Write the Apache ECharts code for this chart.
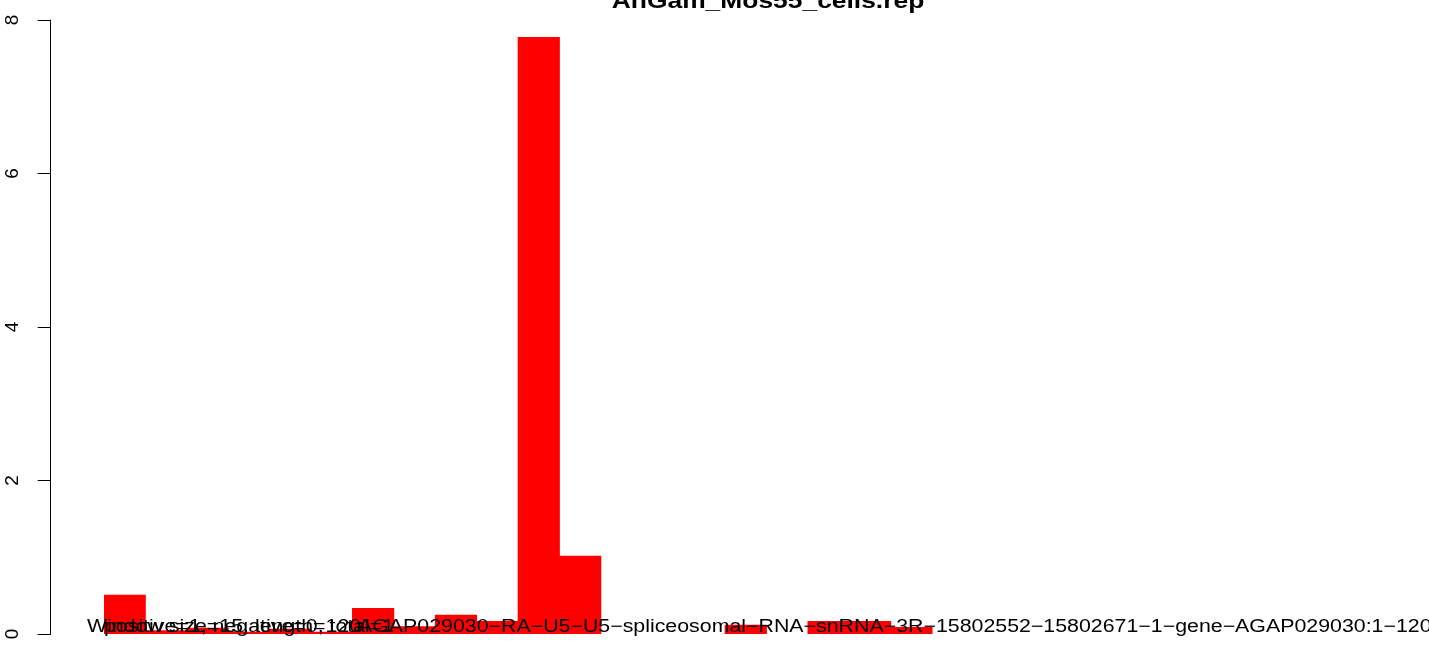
<!DOCTYPE html>
<html><head><meta charset="utf-8">
<script src="https://cdn.jsdelivr.net/npm/echarts@6/dist/echarts.min.js"></script>
<style>html,body{margin:0;padding:0;background:#fff}#c{width:1429px;height:646px}</style>
</head><body><div id="c"></div>
<script>
const titleText = "AnGam_Mos55_cells.rep";
const categories = ["1","2","3","4","5","6","7","8","9","10","11","12","13","14","15","16","17","18","19","20","21","22","23","24","25","26","27","28","29","30","31","32"];
const values = [0.51,0.05,0.08,0.03,0.07,0.03,0.34,0.10,0.25,0.17,7.78,1.02,0,0,0,0.12,0,0.17,0.17,0.09,0,0,0,0,0,0,0,0,0,0,0,0];
const yTicks = [0,2,4,6,8];
const noteWindow = "Window size=15, length=120";
const noteCounts = "positive=1, negative=0, total=1";
const noteName = "AGAP029030\u2212RA\u2212U5\u2212U5\u2212spliceosomal\u2212RNA\u2212snRNA\u22123R\u221215802552\u221215802671\u22121\u2212gene\u2212AGAP029030:1\u2212120";

const FONT = '"Liberation Sans", Arial, Helvetica, sans-serif';
const chart = echarts.init(document.getElementById('c'), null, {renderer:'canvas'});
chart.setOption({
  animation:false,
  backgroundColor:'#ffffff',
  grid:{left:104, right:-7, top:20, bottom:12, containLabel:false},
  xAxis:{type:'category', data:categories, show:false, boundaryGap:true},
  yAxis:{type:'value', min:yTicks[0], max:yTicks[yTicks.length-1], interval:2, offset:53.3,
    axisLine:{show:true, lineStyle:{color:'#000', width:1}},
    axisTick:{show:true, length:13, lineStyle:{color:'#000', width:1}},
    splitLine:{show:false},
    axisLabel:{rotate:90, margin:28, color:'#000', fontSize:19, fontFamily:FONT}
  },
  series:[{type:'bar', data:values, barWidth:42.2, barGap:'0%', itemStyle:{color:'#ff0000'}, silent:true}],
  graphic:[
    {type:'text', z:100, x:768, y:2, scaleX:1.2, style:{text:titleText, font:'bold 22px '+FONT, fill:'#000', textAlign:'center', textVerticalAlign:'middle'}},
    {type:'text', z:100, x:87, y:627, scaleX:1.186, style:{text:noteWindow, font:'18px '+FONT, fill:'#000', textAlign:'left', textVerticalAlign:'middle'}},
    {type:'text', z:100, x:104, y:627, scaleX:1.186, style:{text:noteCounts, font:'18px '+FONT, fill:'#000', textAlign:'left', textVerticalAlign:'middle'}},
    {type:'text', z:100, x:358, y:627, scaleX:1.186, style:{text:noteName, font:'18px '+FONT, fill:'#000', textAlign:'left', textVerticalAlign:'middle'}}
  ]
});
</script></body></html>
